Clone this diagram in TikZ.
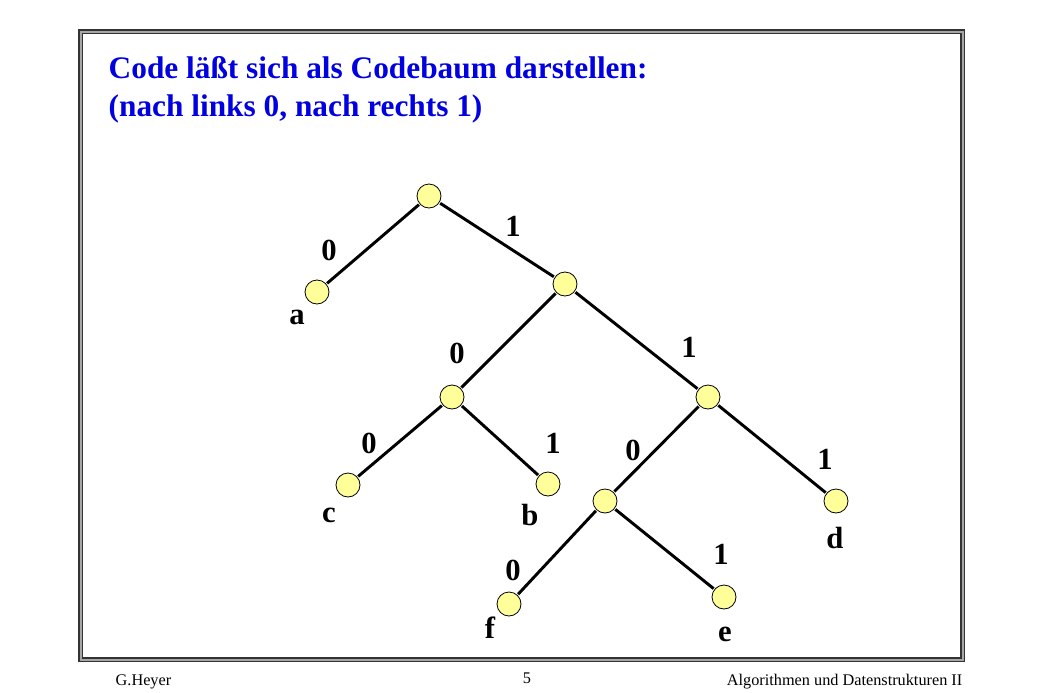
\documentclass[tikz,border=0pt]{standalone}
\usepackage{fontspec}
\setmainfont{Liberation Serif}
\usepackage{xcolor}
\usepackage{tikz}
\definecolor{titleblue}{RGB}{0,0,225}
\definecolor{knotfill}{RGB}{255,255,153}

\begin{document}
\begin{tikzpicture}[x=0.75pt,y=-0.75pt,
    knot/.style={circle,draw=black,line width=0.6pt,fill=knotfill,
        minimum size=18pt,inner sep=0pt,outer sep=1pt},
    lbl/.style={font=\fontsize{23}{27}\selectfont\bfseries},
    headline/.style={font=\fontsize{23.5}{28}\selectfont\bfseries,text=titleblue,anchor=base west},
    foot/.style={font=\fontsize{12.2}{14}\selectfont},
    edgeline/.style={line width=2.2pt,black}]
            \useasboundingbox (0,0) rectangle (1040,693);
            \draw[line width=0.8pt,draw=black!80,double=black!35,double distance=1.5pt]
                (80.5,31.5) rectangle (962.5,659.5);

            % title
            \node[headline] at (104,78) (t1) {Code läßt sich als Codebaum darstellen:};
            \node[headline] at (104,116) (t2) {(nach links 0, nach rechts 1)};

            % knots
            \node[knot] at (429,196) (R) {};
            \node[knot] at (317,292) (A) {};
            \node[knot] at (565,284) (K1) {};
            \node[knot] at (452,397) (K10) {};
            \node[knot] at (708,397) (K11) {};
            \node[knot] at (348,485) (C) {};
            \node[knot] at (548,484) (B) {};
            \node[knot] at (605,501) (K110) {};
            \node[knot] at (836,501) (D) {};
            \node[knot] at (509,604) (F) {};
            \node[knot] at (724,597) (E) {};

            \foreach \u/\v in {R/A,R/K1,K1/K10,K1/K11,K10/C,K10/B,K11/K110,K11/D,K110/F,K110/E}
                \draw[edgeline] (\u) -- (\v);

            % edge labels
            \node[lbl] at (329,250) (l1) {0};
            \node[lbl] at (513,226) (l2) {1};
            \node[lbl] at (457,353) (l3) {0};
            \node[lbl] at (689,347) (l4) {1};
            \node[lbl] at (369,443) (l5) {0};
            \node[lbl] at (553,443) (l6) {1};
            \node[lbl] at (633,450) (l7) {0};
            \node[lbl] at (825,459) (l8) {1};
            \node[lbl] at (513,570) (l9) {0};
            \node[lbl] at (721,554) (l10) {1};

            % leaf names
            \node[lbl] at (297,317) (na) {a};
            \node[lbl] at (329,515) (nc) {c};
            \node[lbl] at (530,515) (nb) {b};
            \node[lbl] at (835,538) (nd) {d};
            \node[lbl] at (490,628) (nf) {f};
            \node[lbl] at (725,634) (ne) {e};

            % footer
            \node[foot,anchor=base west] at (111,685) (fl) {G.Heyer};
            \node[foot,anchor=base] at (527,683) (fm) {5};
            \node[foot,anchor=base east] at (967,685) (fr) {Algorithmen und Datenstrukturen II};
        \end{tikzpicture}
\end{document}
